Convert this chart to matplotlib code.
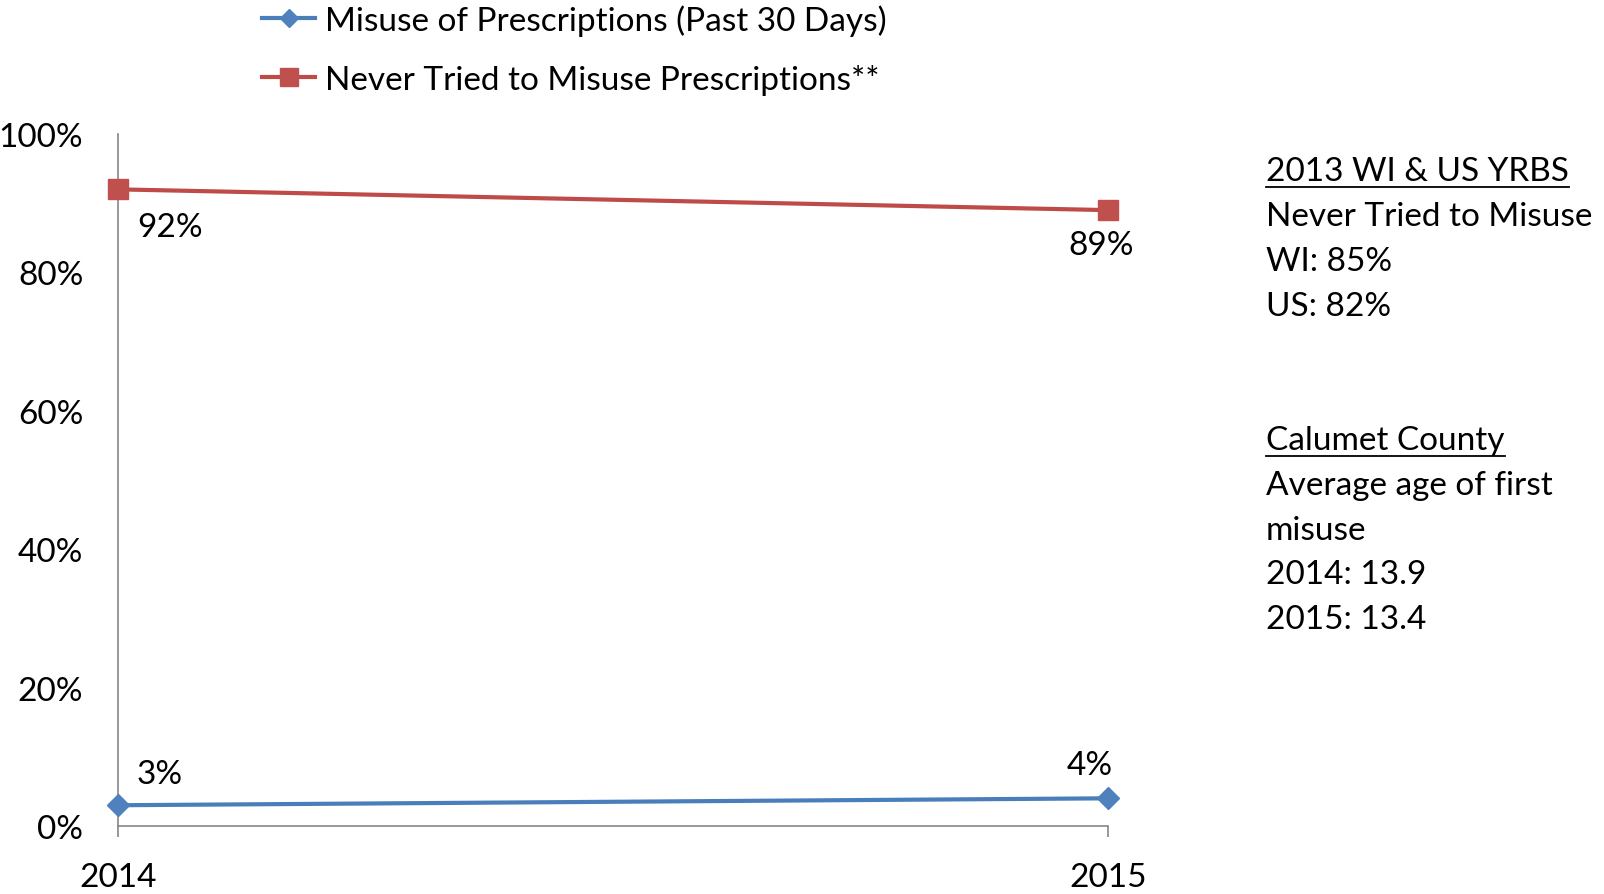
import matplotlib
matplotlib.use("Agg")
import matplotlib.pyplot as plt
from matplotlib.lines import Line2D

plt.rcParams['font.family'] = ['Lato', 'DejaVu Sans']

# data
years = [2014, 2015]
misuse_30 = [0.03, 0.04]
never_tried = [0.92, 0.89]
yticks = [0, 0.2, 0.4, 0.6, 0.8, 1.0]
ytick_labels = ['0%', '20%', '40%', '60%', '80%', '100%']
series_names = ['Misuse of Prescriptions (Past 30 Days)',
                'Never Tried to Misuse Prescriptions**']
side_lines = ['2013 WI & US YRBS', 'Never Tried to Misuse', 'WI: 85%', 'US: 82%',
              'Calumet County', 'Average age of first', 'misuse',
              '2014: 13.9', '2015: 13.4']
side_underlined = [True, False, False, False, True, False, False, False, False]

W, H = 1604, 895
fig = plt.figure(figsize=(W / 100, H / 100), dpi=100)
ax = fig.add_axes([118 / W, 1 - 827 / H, (1108 - 118) / W, (827 - 135) / H])

blue = '#4A7EBB'
blue_m = '#4F81BD'
red = '#BE4B48'
red_m = '#C0504D'
fs = 24

l1, = ax.plot(years, misuse_30, color=blue, lw=3, marker='D', ms=11,
              mfc=blue_m, mec=blue_m, clip_on=False, zorder=5)
l2, = ax.plot(years, never_tried, color=red, lw=3, marker='s', ms=15,
              mfc=red_m, mec=red_m, clip_on=False, zorder=5)

# data labels
offsets_blue = [(19, 31, 'left'), (-18, 33, 'center')]
offsets_red = [(19, -38, 'left'), (-7, -35, 'center')]
for x, v, (dx, dy, ha) in zip(years, misuse_30, offsets_blue):
    ax.annotate(f'{v*100:.0f}%', (x, v), xytext=(dx, dy), textcoords='offset pixels',
                ha=ha, va='center', fontsize=fs, annotation_clip=False)
for x, v, (dx, dy, ha) in zip(years, never_tried, offsets_red):
    ax.annotate(f'{v*100:.0f}%', (x, v), xytext=(dx, dy), textcoords='offset pixels',
                ha=ha, va='center', fontsize=fs, annotation_clip=False)

ax.set_xlim(2014, 2015)
ax.set_ylim(0, 1)
ax.set_xticks(years)
ax.set_xticklabels([str(y) for y in years])
ax.set_yticks(yticks)
ax.set_yticklabels(ytick_labels)
for s in ['top', 'right']:
    ax.spines[s].set_visible(False)
for s in ['left', 'bottom']:
    ax.spines[s].set_color('#868686')
    ax.spines[s].set_linewidth(1.2)
ax.tick_params(axis='y', length=0, pad=25, labelsize=fs)
ax.tick_params(axis='x', length=8, width=1.2, color='#868686', pad=18, labelsize=fs, direction='out')

fig.legend([l1, l2], series_names, loc='upper left', bbox_to_anchor=(262 / W, 1 - 5 / H),
           frameon=False, fontsize=fs, handlelength=1.6, handletextpad=0.3,
           labelspacing=0.85, borderpad=0, borderaxespad=0, markerscale=0.85)

# side notes
side_y = [172, 217, 262, 307, 441, 486, 531, 575, 620]
texts = []
for txt, yy, ul in zip(side_lines, side_y, side_underlined):
    t = fig.text(1266 / W, 1 - yy / H, txt, fontsize=fs, va='center', ha='left')
    texts.append((t, ul))

fig.canvas.draw()
r = fig.canvas.get_renderer()
for t, ul in texts:
    if ul:
        bb = t.get_window_extent(r)
        yline = bb.y0 - 1
        fig.add_artist(Line2D([bb.x0 / W, bb.x1 / W], [yline / H, yline / H],
                              transform=fig.transFigure, color='black', lw=1.3))

fig.savefig('out.png', dpi=100)
